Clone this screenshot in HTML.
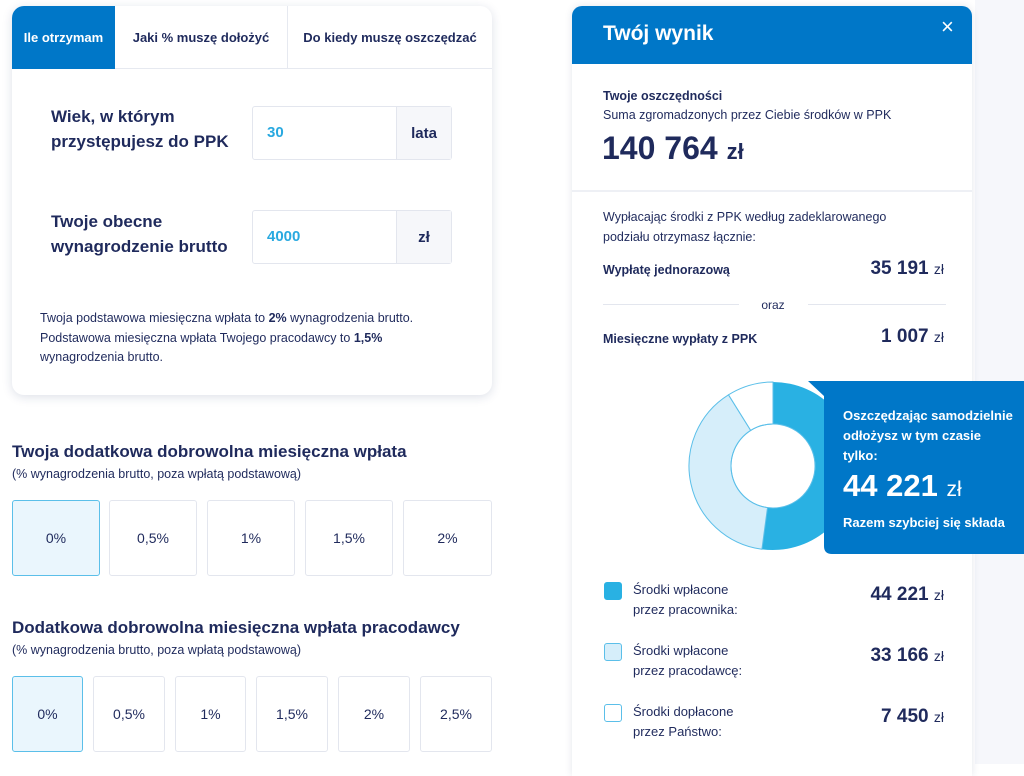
<!DOCTYPE html>
<html><head><meta charset="utf-8"><style>
*{box-sizing:border-box;margin:0;padding:0}
body{width:1024px;height:764px;overflow:hidden;background:#fff;font-family:"Liberation Sans",sans-serif;color:#1f2a5c;position:relative}
.a{position:absolute}
.b{font-weight:bold}
.card{left:12px;top:6px;width:480px;height:389px;border-radius:12px;background:#fff;box-shadow:0 2px 10px rgba(30,50,100,.15);overflow:hidden}
.tab{top:0;height:63px;display:flex;align-items:center;justify-content:center;font-size:13px;font-weight:bold;border-bottom:1px solid #e6e9f0}
.inp{width:200px;height:54px;border:1px solid #e3e6ee;border-radius:3px;background:#fff}
.inp .v{left:14px;top:17px;font-size:15px;font-weight:bold;color:#29a9e0}
.inp .u{right:0;top:0;width:55px;height:52px;background:#f6f7fa;border-left:1px solid #e3e6ee;display:flex;align-items:center;justify-content:center;font-size:15px;font-weight:bold}
.lbl{font-size:17px;font-weight:bold;line-height:25px}
.btn{height:76px;border:1px solid #e3e6ee;border-radius:3px;display:flex;align-items:center;justify-content:center;font-size:14px;background:#fff}
.sel{background:#eaf6fd;border-color:#5bbfe9}
.h{font-size:17px;font-weight:bold}
.s{font-size:12.5px}
.panel{left:572px;top:6px;width:400px;height:770px;background:#fff;border-radius:10px 10px 0 0;box-shadow:0 0 8px rgba(30,50,100,.12);overflow:hidden}
.zl{font-weight:normal;font-size:.62em}
.leg{width:18px;height:18px;border-radius:3px;border:1.5px solid #5bbfe9}
.lt{font-size:13px;line-height:20px}
.lv{font-size:19px;font-weight:bold;text-align:right;width:200px}
</style></head><body>
<div class="a" style="left:975px;top:0;width:49px;height:764px;background:#f6f7fb"></div>
<div class="a card">
 <div class="a tab" style="left:0;width:103px;background:#0077c8;color:#fff;border-bottom-color:#0077c8">Ile otrzymam</div>
 <div class="a tab" style="left:103px;width:173px;border-right:1px solid #e6e9f0">Jaki % muszę dołożyć</div>
 <div class="a tab" style="left:276px;width:204px">Do kiedy muszę oszczędzać</div>
 <div class="a lbl" style="left:39px;top:98px">Wiek, w którym<br>przystępujesz do PPK</div>
 <div class="a inp" style="left:240px;top:100px"><div class="a v">30</div><div class="a u">lata</div></div>
 <div class="a lbl" style="left:39px;top:203px">Twoje obecne<br>wynagrodzenie brutto</div>
 <div class="a inp" style="left:240px;top:204px"><div class="a v">4000</div><div class="a u">zł</div></div>
 <div class="a" style="left:28px;top:303px;font-size:12.5px;line-height:19.5px;width:440px">Twoja podstawowa miesięczna wpłata to <b>2%</b> wynagrodzenia brutto.<br>Podstawowa miesięczna wpłata Twojego pracodawcy to <b>1,5%</b><br>wynagrodzenia brutto.</div>
</div>
<div class="a h" style="left:12px;top:442px">Twoja dodatkowa dobrowolna miesięczna wpłata</div>
<div class="a s" style="left:12px;top:467px">(% wynagrodzenia brutto, poza wpłatą podstawową)</div>
<div class="a btn sel" style="left:12px;top:500px;width:88px">0%</div>
<div class="a btn" style="left:109px;top:500px;width:88px">0,5%</div>
<div class="a btn" style="left:207px;top:500px;width:88px">1%</div>
<div class="a btn" style="left:305px;top:500px;width:88px">1,5%</div>
<div class="a btn" style="left:403px;top:500px;width:89px">2%</div>
<div class="a h" style="left:12px;top:618px">Dodatkowa dobrowolna miesięczna wpłata pracodawcy</div>
<div class="a s" style="left:12px;top:643px">(% wynagrodzenia brutto, poza wpłatą podstawową)</div>
<div class="a btn sel" style="left:12px;top:676px;width:71px">0%</div>
<div class="a btn" style="left:93px;top:676px;width:72px">0,5%</div>
<div class="a btn" style="left:175px;top:676px;width:71px">1%</div>
<div class="a btn" style="left:256px;top:676px;width:72px">1,5%</div>
<div class="a btn" style="left:338px;top:676px;width:72px">2%</div>
<div class="a btn" style="left:420px;top:676px;width:72px">2,5%</div>

<div class="a panel">
 <div class="a" style="left:0;top:0;width:400px;height:58px;background:#0077c8"></div>
 <div class="a b" style="left:31px;top:16px;font-size:21px;color:#fff">Twój wynik</div>
 <div class="a" style="left:369px;top:8px;font-size:22px;color:#fff">×</div>
 <div class="a b" style="left:31px;top:83px;font-size:12.5px">Twoje oszczędności</div>
 <div class="a" style="left:31px;top:102px;font-size:12.5px">Suma zgromadzonych przez Ciebie środków w PPK</div>
 <div class="a b" style="left:30px;top:124px;font-size:32px">140 764 <span style="font-size:22px">zł</span></div>
 <div class="a" style="left:0;top:184px;width:400px;height:2px;background:#eef0f5"></div>
 <div class="a" style="left:31px;top:201px;font-size:12.5px;line-height:20px">Wypłacając środki z PPK według zadeklarowanego<br>podziału otrzymasz łącznie:</div>
 <div class="a b" style="left:31px;top:257px;font-size:12.5px">Wypłatę jednorazową</div>
 <div class="a b" style="right:28px;top:252px;font-size:19px">35 191 <span class="zl" style="font-size:14px">zł</span></div>
 <div class="a" style="left:31px;top:298px;width:136px;height:1px;background:#e3e6ee"></div>
 <div class="a" style="left:166px;top:292px;width:70px;text-align:center;font-size:12px">oraz</div>
 <div class="a" style="left:236px;top:298px;width:138px;height:1px;background:#e3e6ee"></div>
 <div class="a b" style="left:31px;top:326px;font-size:12.5px">Miesięczne wypłaty z PPK</div>
 <div class="a b" style="right:28px;top:320px;font-size:19px">1 007 <span class="zl" style="font-size:14px">zł</span></div>
 <div class="a leg" style="left:32px;top:576px;background:#29b1e3;border-color:#29b1e3"></div>
 <div class="a lt" style="left:61px;top:574px">Środki wpłacone<br>przez pracownika:</div>
 <div class="a lv" style="right:28px;top:578px">44 221 <span class="zl" style="font-size:14px">zł</span></div>
 <div class="a leg" style="left:32px;top:637px;background:#d6eefa"></div>
 <div class="a lt" style="left:61px;top:635px">Środki wpłacone<br>przez pracodawcę:</div>
 <div class="a lv" style="right:28px;top:639px">33 166 <span class="zl" style="font-size:14px">zł</span></div>
 <div class="a leg" style="left:32px;top:698px;background:#fff"></div>
 <div class="a lt" style="left:61px;top:696px">Środki dopłacone<br>przez Państwo:</div>
 <div class="a lv" style="right:28px;top:700px">7 450 <span class="zl" style="font-size:14px">zł</span></div>
</div>
<svg class="a" style="left:0;top:0" width="1024" height="764">
 <path d="M773 382 A84 84 0 1 1 761.9 549.3 L767.5 507.6 A42 42 0 1 0 773 424 Z" fill="#29b1e3"/>
 <path d="M761.9 549.3 A84 84 0 0 1 728.5 394.8 L750.7 430.4 A42 42 0 0 0 767.5 507.6 Z" fill="#d6eefa" stroke="#5bbfe9" stroke-width="1"/>
 <path d="M728.5 394.8 A84 84 0 0 1 773 382 L773 424 A42 42 0 0 0 750.7 430.4 Z" fill="#fff" stroke="#5bbfe9" stroke-width="1"/>
 <circle cx="773" cy="466" r="42" fill="none" stroke="#5bbfe9" stroke-width="1"/>
 <path d="M808 381 L1024 381 L1024 554 L832 554 Q824 554 824 546 L824 396 Z" fill="#0077c8"/>
</svg>
<div class="a b" style="left:843px;top:406px;font-size:13px;line-height:20px;color:#fff">Oszczędzając samodzielnie<br>odłożysz w tym czasie<br>tylko:</div>
<div class="a b" style="left:843px;top:468px;font-size:31px;color:#fff">44 221 <span style="font-weight:normal;font-size:21px">zł</span></div>
<div class="a b" style="left:843px;top:515px;font-size:13px;color:#fff">Razem szybciej się składa</div>
</body></html>
